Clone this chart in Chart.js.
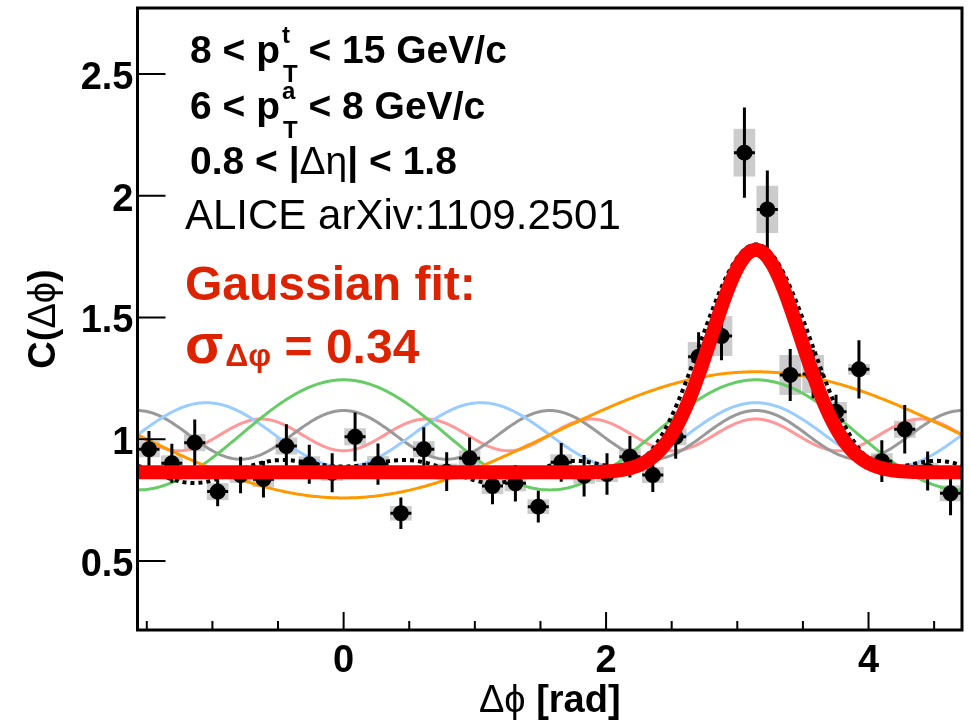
<!DOCTYPE html>
<html>
<head>
<meta charset="utf-8">
<script src="https://cdn.jsdelivr.net/npm/chart.js@4.4.1/dist/chart.umd.min.js"></script>
<style>
  html, body { margin: 0; padding: 0; background: #ffffff; }
  canvas { display: block; }
</style>
</head>
<body>
<canvas id="chart" width="970" height="725"></canvas>
<script>
// Δφ bin centres (36 bins spanning -π/2 .. 3π/2)
const binCenters = [
  -1.4835, -1.3090, -1.1345, -0.9599, -0.7854, -0.6109, -0.4363, -0.2618, -0.0873,
   0.0873,  0.2618,  0.4363,  0.6109,  0.7854,  0.9599,  1.1345,  1.3090,  1.4835,
   1.6581,  1.8326,  2.0071,  2.1817,  2.3562,  2.5307,  2.7053,  2.8798,  3.0543,
   3.2289,  3.4034,  3.5779,  3.7525,  3.9270,  4.1015,  4.2761,  4.4506,  4.6251
];
// measured correlation C(Δφ)
const corrValues = [
  0.959, 0.901, 0.986, 0.785, 0.853, 0.836, 0.972, 0.897, 0.862,
  1.010, 0.898, 0.696, 0.959, 0.867, 0.922, 0.808, 0.819, 0.723,
  0.905, 0.850, 0.857, 0.928, 0.853, 1.010, 1.339, 1.424, 2.177,
  1.944, 1.264, 1.268, 1.113, 1.287, 0.910, 1.041, 0.870, 0.778
];
// statistical uncertainties
const statErrors = [
  0.075, 0.080, 0.095, 0.060, 0.075, 0.075, 0.090, 0.080, 0.080,
  0.100, 0.085, 0.065, 0.090, 0.080, 0.085, 0.075, 0.075, 0.065,
  0.080, 0.085, 0.085, 0.085, 0.070, 0.090, 0.100, 0.100, 0.185,
  0.160, 0.107, 0.100, 0.070, 0.120, 0.086, 0.100, 0.080, 0.090
];
// systematic uncertainties (grey boxes)
const sysErrors = [
  0.033, 0.033, 0.035, 0.035, 0.033, 0.033, 0.035, 0.033, 0.033,
  0.035, 0.033, 0.030, 0.033, 0.033, 0.033, 0.033, 0.033, 0.030,
  0.033, 0.033, 0.033, 0.035, 0.033, 0.035, 0.060, 0.082, 0.098,
  0.097, 0.082, 0.078, 0.040, 0.022, 0.033, 0.035, 0.033, 0.033
];

// Fourier decomposition: C = b0 + a_n cos(n(Δφ - π))
const pedestal = 1.018;
const harmonicOrders = [1, 2, 3, 4, 5];
const harmonicAmps = [0.259, 0.226, 0.132, 0.100, 0.065];
const harmonicColors = ['#ff9900', '#66cc66', '#99ccff', '#999999', '#ff9999'];

// Gaussian away-side fit
const gaussBase = 0.864;
const gaussAmp = 0.914;
const gaussMean = Math.PI;
const gaussSigma = 0.34;

// axis ticks
const yTicks = [0.5, 1, 1.5, 2, 2.5];
const yTickLabels = ['0.5', '1', '1.5', '2', '2.5'];
const xMajorTicks = [0, 2, 4];
const xTickLabels = ['0', '2', '4'];
const xMinorTicks = [-1.5, -1, -0.5, 0.5, 1, 1.5, 2.5, 3, 3.5, 4.5];

const FONT = '"Liberation Sans", Arial, Helvetica, "DejaVu Sans", sans-serif';
const X_MIN = -Math.PI / 2, X_MAX = 1.5 * Math.PI;
const Y_MIN = 0.2166, Y_MAX = 2.771;
const SYS_HALF = 0.0825;   // half width of systematic boxes (rad)
const XERR_HALF = 0.08;    // half length of horizontal bar (rad)

// sampling grid for the smooth fit curves
const grid = [];
for (let k = 0; k <= 400; k++) grid.push(X_MIN + (X_MAX - X_MIN) * k / 400);

const harmonicCurve = (k) => grid.map(x => ({
  x, y: pedestal + harmonicAmps[k] * Math.cos(harmonicOrders[k] * (x - Math.PI))
}));
const fourierSum = grid.map(x => {
  let y = pedestal;
  harmonicOrders.forEach((n, k) => { y += harmonicAmps[k] * Math.cos(n * (x - Math.PI)); });
  return { x, y };
});
const gaussCurve = grid.map(x => ({
  x, y: gaussBase + gaussAmp * Math.exp(-((x - gaussMean) ** 2) / (2 * gaussSigma * gaussSigma))
}));

const lineDefaults = { type: 'line', pointRadius: 0, tension: 0, clip: 0, fill: false, borderCapStyle: 'butt' };

const datasets = [
  Object.assign({}, lineDefaults, { label: 'gauss', data: gaussCurve, borderColor: '#ff0000', borderWidth: 14, order: 0, borderJoinStyle: 'round' }),
  { type: 'scatter', label: 'data', data: binCenters.map((x, i) => ({ x, y: corrValues[i] })),
    pointRadius: 8, pointBackgroundColor: '#000', pointBorderWidth: 0, order: 1 },
  Object.assign({}, lineDefaults, { label: 'sum', data: fourierSum, borderColor: '#000', borderWidth: 4, borderDash: [4, 4], order: 2 }),
];
harmonicOrders.forEach((n, k) => {
  datasets.push(Object.assign({}, lineDefaults, {
    label: 'v' + n, data: harmonicCurve(k), borderColor: harmonicColors[k], borderWidth: 3, order: 3 + k
  }));
});

function drawRuns(ctx, x, baseline, runs) {
  runs.forEach(r => {
    if (r.stack) {
      let w = 0;
      r.stack.forEach(s => {
        ctx.font = s.font;
        ctx.fillText(s.text, x + (s.dx || 0), baseline + s.dy);
        w = Math.max(w, ctx.measureText(s.text).width + (s.dx || 0));
      });
      x += w;
    } else {
      ctx.font = r.font;
      ctx.fillText(r.text, x + (r.dx || 0), baseline + (r.dy || 0));
      x += ctx.measureText(r.text).width + (r.dx || 0);
    }
  });
  return x;
}
function runsWidth(ctx, runs) {
  let w = 0;
  runs.forEach(r => { ctx.font = r.font; w += ctx.measureText(r.text).width; });
  return w;
}

const decor = {
  id: 'decor',
  beforeDatasetsDraw(chart) {
    const { ctx, chartArea: a, scales: { x, y } } = chart;
    ctx.save();
    ctx.beginPath(); ctx.rect(a.left, a.top, a.right - a.left, a.bottom - a.top); ctx.clip();
    ctx.fillStyle = '#cccccc';
    binCenters.forEach((c, i) => {
      const x0 = x.getPixelForValue(c - SYS_HALF), x1 = x.getPixelForValue(c + SYS_HALF);
      const y0 = y.getPixelForValue(corrValues[i] + sysErrors[i]), y1 = y.getPixelForValue(corrValues[i] - sysErrors[i]);
      ctx.fillRect(x0, y0, x1 - x0, y1 - y0);
    });
    ctx.restore();
  },
  beforeDatasetDraw(chart, args) {
    if (chart.data.datasets[args.index].label !== 'data') return;
    const { ctx, chartArea: a, scales: { x, y } } = chart;
    ctx.save();
    ctx.beginPath(); ctx.rect(a.left, a.top, a.right - a.left, a.bottom - a.top); ctx.clip();
    ctx.strokeStyle = '#000'; ctx.lineWidth = 3; ctx.lineCap = 'butt';
    binCenters.forEach((c, i) => {
      const px = x.getPixelForValue(c), py = y.getPixelForValue(corrValues[i]);
      ctx.beginPath();
      ctx.moveTo(px, y.getPixelForValue(corrValues[i] + statErrors[i]));
      ctx.lineTo(px, y.getPixelForValue(corrValues[i] - statErrors[i]));
      ctx.moveTo(x.getPixelForValue(c - XERR_HALF), py);
      ctx.lineTo(x.getPixelForValue(c + XERR_HALF), py);
      ctx.stroke();
    });
    ctx.restore();
  },
  afterDatasetsDraw(chart) {
    const { ctx, chartArea: a, scales: { x, y } } = chart;
    ctx.save();
    ctx.strokeStyle = '#000';
    ctx.lineWidth = 2;
    ctx.beginPath();
    yTicks.forEach(v => { const p = y.getPixelForValue(v); ctx.moveTo(a.left, p); ctx.lineTo(a.left + 28, p); });
    xMajorTicks.forEach(v => { const p = x.getPixelForValue(v); ctx.moveTo(p, a.bottom); ctx.lineTo(p, a.bottom - 18); });
    xMinorTicks.forEach(v => { const p = x.getPixelForValue(v); ctx.moveTo(p, a.bottom); ctx.lineTo(p, a.bottom - 9); });
    ctx.stroke();
    ctx.lineWidth = 3;
    ctx.strokeRect(a.left, a.top, a.right - a.left, a.bottom - a.top);

    // tick labels
    ctx.fillStyle = '#000';
    ctx.font = `bold 38px ${FONT}`;
    ctx.textBaseline = 'alphabetic';
    ctx.textAlign = 'right';
    yTicks.forEach((v, i) => ctx.fillText(yTickLabels[i], a.left - 4, y.getPixelForValue(v) + 15));
    ctx.textAlign = 'center';
    xMajorTicks.forEach((v, i) => ctx.fillText(xTickLabels[i], x.getPixelForValue(v), a.bottom + 42));
    ctx.restore();
  },
  afterDraw(chart) {
    const { ctx, chartArea: a } = chart;
    const B = (s) => `bold ${s}px ${FONT}`;
    const N = (s) => `${s}px ${FONT}`;
    ctx.save();
    ctx.textAlign = 'left';
    ctx.textBaseline = 'alphabetic';
    ctx.fillStyle = '#000';

    drawRuns(ctx, 190, 63, [
      { text: '8 < p', font: B(39) },
      { stack: [{ text: 't', font: B(24), dy: -20, dx: 2 }, { text: 'T', font: B(24), dy: 19, dx: 3 }] },
      { text: ' < 15 GeV/c', font: B(39) }
    ]);
    drawRuns(ctx, 190, 119, [
      { text: '6 < p', font: B(39) },
      { stack: [{ text: 'a', font: B(24), dy: -20, dx: 2 }, { text: 'T', font: B(24), dy: 19, dx: 3 }] },
      { text: ' < 8 GeV/c', font: B(39) }
    ]);
    drawRuns(ctx, 190, 174, [
      { text: '0.8 < |', font: B(39) },
      { text: 'Δη', font: N(39) },
      { text: '| < 1.8', font: B(39) }
    ]);
    drawRuns(ctx, 185, 229, [{ text: 'ALICE arXiv:1109.2501', font: N(42) }]);

    ctx.fillStyle = '#dd2200';
    drawRuns(ctx, 185, 300, [{ text: 'Gaussian fit:', font: B(48) }]);
    drawRuns(ctx, 185, 363, [
      { text: 'σ', font: B(56) },
      { text: 'Δφ', font: B(32), dy: 3, dx: 2 },
      { text: ' = 0.34', font: B(48) }
    ]);

    // axis titles
    ctx.fillStyle = '#000';
    const xt = [{ text: 'Δϕ', font: N(38) }, { text: ' [rad]', font: B(38) }];
    const xw = runsWidth(ctx, xt);
    drawRuns(ctx, (a.left + a.right) / 2 - xw / 2, 712, xt);

    const yt = [{ text: 'C(', font: B(38) }, { text: 'Δϕ', font: N(38) }, { text: ')', font: B(38) }];
    const yw = runsWidth(ctx, yt);
    ctx.translate(55, (a.top + a.bottom) / 2);
    ctx.rotate(-Math.PI / 2);
    drawRuns(ctx, -yw / 2, 0, yt);
    ctx.restore();
  }
};

new Chart(document.getElementById('chart'), {
  type: 'scatter',
  data: { datasets },
  options: {
    responsive: false,
    animation: false,
    devicePixelRatio: 1,
    events: [],
    layout: { padding: { top: 8, right: 5, left: 0, bottom: 0 } },
    plugins: { legend: { display: false }, tooltip: { enabled: false } },
    scales: {
      x: {
        type: 'linear', min: X_MIN, max: X_MAX,
        afterFit: s => { s.height = 95; },
        afterBuildTicks: s => { s.ticks = xMajorTicks.map(v => ({ value: v })); },
        grid: { display: false, drawTicks: false },
        border: { display: false },
        ticks: { display: false }
      },
      y: {
        type: 'linear', min: Y_MIN, max: Y_MAX,
        afterFit: s => { s.width = 137.5; },
        afterBuildTicks: s => { s.ticks = yTicks.map(v => ({ value: v })); },
        grid: { display: false, drawTicks: false },
        border: { display: false },
        ticks: { display: false }
      }
    }
  },
  plugins: [decor]
});
</script>
</body>
</html>
